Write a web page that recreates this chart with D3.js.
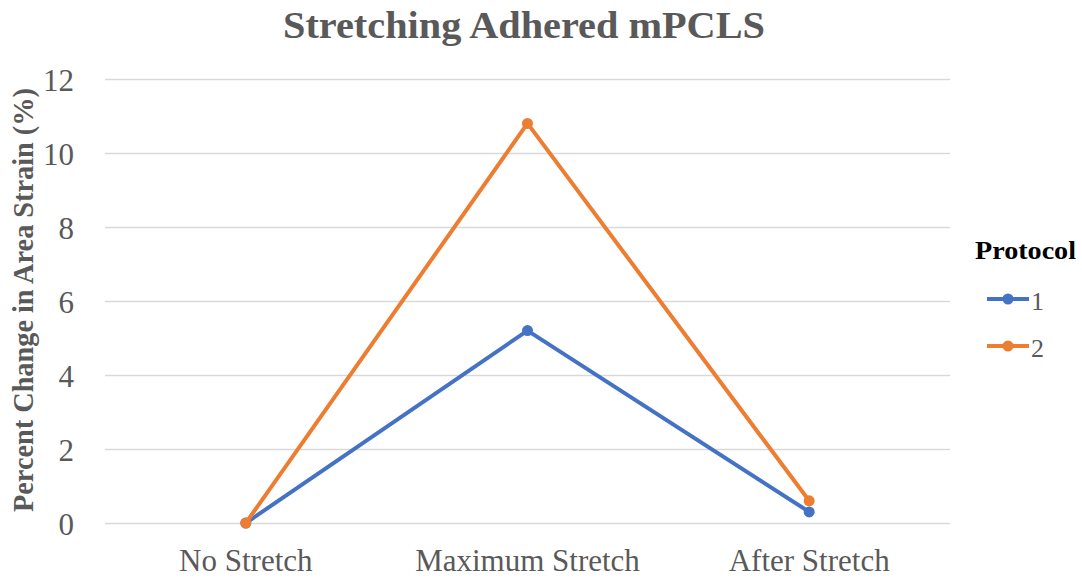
<!DOCTYPE html>
<html>
<head>
<meta charset="utf-8">
<script src="https://cdn.jsdelivr.net/npm/d3@7"></script>
<style>
  html, body { margin: 0; padding: 0; background: #fff; }
  svg { display: block; }
  text { font-family: "Liberation Serif", "Times New Roman", serif; }
</style>
</head>
<body>
<svg id="chart" width="1082" height="578"></svg>
<script>
// Chart data
const categories = ["No Stretch", "Maximum Stretch", "After Stretch"];
const protocol1 = [0, 5.2, 0.3];
const protocol2 = [0, 10.8, 0.6];
const seriesNames = ["1", "2"];
const yTicks = [0, 2, 4, 6, 8, 10, 12];

const series = [
  { name: seriesNames[0], values: protocol1, color: "#4472C4" },
  { name: seriesNames[1], values: protocol2, color: "#ED7D31" }
];

const svg = d3.select("#chart");
const plot = { left: 105, right: 950, top: 79, bottom: 523 };

const x = d3.scaleBand().domain(categories).range([plot.left, plot.right]);
const y = d3.scaleLinear().domain([0, 12]).range([plot.bottom, plot.top]);

const textGray = "#595959";
const serif = "'Liberation Serif', 'Times New Roman', serif";

// Title
svg.append("text")
  .attr("x", 524).attr("y", 38)
  .attr("text-anchor", "middle")
  .attr("textLength", 482).attr("lengthAdjust", "spacingAndGlyphs")
  .style("font-size", "38px").style("font-weight", "bold")
  .attr("fill", textGray)
  .text("Stretching Adhered mPCLS");

// Horizontal gridlines and y tick labels
const yAxis = d3.axisLeft(y).tickValues(yTicks).tickSize(-(plot.right - plot.left)).tickPadding(31);
const gy = svg.append("g").attr("transform", `translate(${plot.left},0)`).call(yAxis);
gy.select(".domain").remove();
gy.selectAll(".tick line").attr("stroke", "#d9d9d9").attr("stroke-width", 1.5);
gy.selectAll(".tick text")
  .attr("fill", textGray)
  .attr("dy", "0.38em")
  .style("font-size", "31px")
  .style("font-family", serif);

// Category labels
const xAxis = d3.axisBottom(x).tickSize(0).tickPadding(0);
const gx = svg.append("g").attr("transform", `translate(0,${plot.bottom})`).call(xAxis);
gx.select(".domain").remove();
gx.selectAll(".tick text")
  .attr("y", 48).attr("dy", 0)
  .attr("fill", textGray)
  .style("font-size", "31px")
  .style("font-family", serif);

// Y axis title
svg.append("text")
  .attr("transform", "translate(33,300) rotate(-90)")
  .attr("text-anchor", "middle")
  .attr("textLength", 424).attr("lengthAdjust", "spacingAndGlyphs")
  .style("font-size", "29px").style("font-weight", "bold")
  .attr("fill", textGray)
  .text("Percent Change in Area Strain (%)");

// Series lines and markers
const cx = c => x(c) + x.bandwidth() / 2;
const line = d3.line().x((d, i) => cx(categories[i])).y(d => y(d));

series.forEach(s => {
  svg.append("path")
    .datum(s.values)
    .attr("d", line)
    .attr("fill", "none")
    .attr("stroke", s.color)
    .attr("stroke-width", 4)
    .attr("stroke-linejoin", "round");
  svg.append("g").selectAll("circle")
    .data(s.values)
    .join("circle")
    .attr("cx", (d, i) => cx(categories[i]))
    .attr("cy", d => y(d))
    .attr("r", 5.5)
    .attr("fill", s.color);
});

// Legend
const legend = svg.append("g");
legend.append("text")
  .attr("x", 975).attr("y", 259)
  .attr("textLength", 101).attr("lengthAdjust", "spacingAndGlyphs")
  .style("font-size", "26px").style("font-weight", "bold")
  .attr("fill", "#000")
  .text("Protocol");

series.forEach((s, i) => {
  const ly = 299 + i * 47;
  legend.append("line")
    .attr("x1", 987).attr("x2", 1029)
    .attr("y1", ly).attr("y2", ly)
    .attr("stroke", s.color).attr("stroke-width", 4);
  legend.append("circle")
    .attr("cx", 1008).attr("cy", ly).attr("r", 5.5)
    .attr("fill", s.color);
  legend.append("text")
    .attr("x", 1031).attr("y", ly + 11)
    .style("font-size", "26px")
    .attr("fill", textGray)
    .text(s.name);
});
</script>
</body>
</html>
